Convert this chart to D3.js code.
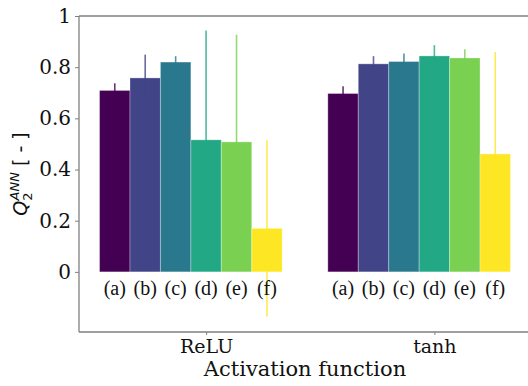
<!DOCTYPE html>
<html>
<head>
<meta charset="utf-8">
<script src="https://cdn.jsdelivr.net/npm/d3@7"></script>
<style>
  html, body { margin: 0; padding: 0; background: #fff; }
  svg { display: block; }
</style>
</head>
<body>
<svg id="chart" width="528" height="386"></svg>
<script>
// Activation functions (groups) and model variants (bars in each group)
const groups = ["ReLU", "tanh"];
const variants = ["(a)", "(b)", "(c)", "(d)", "(e)", "(f)"];
const colors = ["#440154", "#414487", "#2a788e", "#22a884", "#7ad151", "#fde725"];

// Mean Q2 per variant, and the half-width of its error bar
const reluMean = [0.709, 0.758, 0.820, 0.516, 0.508, 0.170];
const reluErr  = [0.028, 0.091, 0.023, 0.427, 0.419, 0.344];
const tanhMean = [0.697, 0.813, 0.822, 0.844, 0.836, 0.461];
const tanhErr  = [0.028, 0.030, 0.031, 0.042, 0.034, 0.398];

const yTicks = [0, 0.2, 0.4, 0.6, 0.8, 1];
const yTickLabels = ["0", "0.2", "0.4", "0.6", "0.8", "1"];

const means = [reluMean, tanhMean];
const errs = [reluErr, tanhErr];

const barW = 0.8 / variants.length;

const svg = d3.select("#chart");
const plotL = 79, plotR = 531, plotT = 16, plotB = 332;

const x = d3.scaleLinear().domain([-0.5567, 1.4233]).range([plotL, plotR]);
const y = d3.scaleLinear().domain([-0.235, 1.0]).range([plotB, plotT]);

const serif = "'DejaVu Serif', serif";

// bars and error bars
const rows = [];
groups.forEach((g, gi) => {
  variants.forEach((v, i) => {
    rows.push({ gi, i, c: gi + (i - 3) * barW, m: means[gi][i], e: errs[gi][i] });
  });
});

const plot = svg.append("g");

plot.selectAll("rect.bar").data(rows).enter().append("rect")
  .attr("class", "bar")
  .attr("x", d => x(d.c - barW / 2))
  .attr("width", d => x(d.c + barW / 2) - x(d.c - barW / 2))
  .attr("y", d => y(d.m))
  .attr("height", d => y(0) - y(d.m))
  .attr("fill", d => colors[d.i])
  .attr("stroke", "#ffffff")
  .attr("stroke-opacity", 0.3)
  .attr("stroke-width", 1);

plot.selectAll("line.err").data(rows).enter().append("line")
  .attr("class", "err")
  .attr("x1", d => x(d.c)).attr("x2", d => x(d.c))
  .attr("y1", d => y(d.m - d.e)).attr("y2", d => y(d.m + d.e))
  .attr("stroke", d => colors[d.i])
  .attr("stroke-opacity", 0.8)
  .attr("stroke-width", 1.6);

// variant labels under each bar
plot.selectAll("text.var").data(rows).enter().append("text")
  .attr("class", "var")
  .attr("x", d => x(d.c))
  .attr("y", 295)
  .attr("text-anchor", "middle")
  .attr("font-family", "'Liberation Serif', 'Times New Roman', serif")
  .attr("font-size", 20)
  .attr("fill", "#111")
  .text(d => variants[d.i]);

// spines
const spine = "#808080";
const frame = [
  [plotL, plotT, plotR, plotT],
  [plotL, plotB, plotR, plotB],
  [plotL, plotT, plotL, plotB],
  [plotR, plotT, plotR, plotB]
];
svg.selectAll("line.spine").data(frame).enter().append("line")
  .attr("class", "spine")
  .attr("x1", d => d[0]).attr("y1", d => d[1])
  .attr("x2", d => d[2]).attr("y2", d => d[3])
  .attr("stroke", spine).attr("stroke-width", 1.3);

// y axis
const yAxis = d3.axisLeft(y).tickValues(yTicks)
  .tickFormat((d, i) => yTickLabels[i]).tickSize(4).tickPadding(4);
const gy = svg.append("g").attr("transform", `translate(${plotL},0)`).call(yAxis);
gy.select(".domain").remove();
gy.selectAll(".tick line").attr("stroke", spine);
gy.selectAll(".tick text").attr("font-family", serif).attr("font-size", 20).attr("fill", "#111");

// x axis (group ticks)
const xAxis = d3.axisBottom(x).tickValues([0, 1])
  .tickFormat((d, i) => groups[i]).tickSize(3).tickPadding(5);
const gx = svg.append("g").attr("transform", `translate(0,${plotB})`).call(xAxis);
gx.select(".domain").remove();
gx.selectAll(".tick line").attr("stroke", spine);
gx.selectAll(".tick text").attr("font-family", serif).attr("font-size", 19).attr("fill", "#111");

// axis titles
svg.append("text")
  .attr("x", (plotL + plotR) / 2).attr("y", 376)
  .attr("text-anchor", "middle")
  .attr("font-family", serif).attr("font-size", 21).attr("fill", "#111")
  .text("Activation function");

const yl = svg.append("text")
  .attr("transform", `translate(27,${(plotT + plotB) / 2}) rotate(-90)`)
  .attr("text-anchor", "middle")
  .attr("font-family", "'DejaVu Sans', sans-serif").attr("font-size", 19).attr("fill", "#111");
yl.append("tspan").attr("font-style", "italic").text("Q");
yl.append("tspan").attr("font-size", 13).attr("dy", 5).text("2");
yl.append("tspan").attr("font-size", 13).attr("font-style", "italic").attr("dx", -8).attr("dy", -13).text("ANN");
yl.append("tspan").attr("dy", 8).text(" [ - ]");
</script>
</body>
</html>
